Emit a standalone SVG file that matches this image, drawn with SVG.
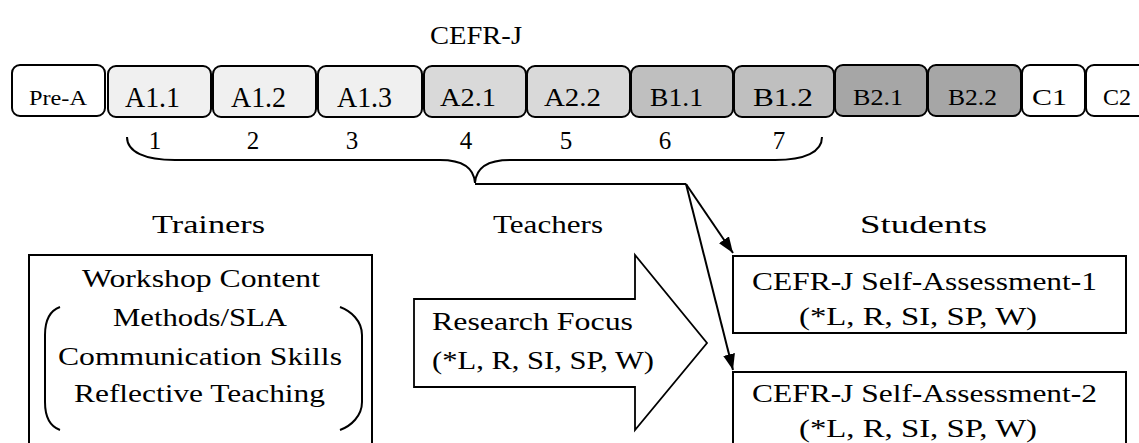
<svg xmlns="http://www.w3.org/2000/svg" width="1139" height="443" viewBox="0 0 1139 443" font-family="'Liberation Serif', 'DejaVu Serif', serif">
<style>
text{font-family:"Liberation Serif","DejaVu Serif",serif;fill:#000;}
.t25{font-size:25px;}
.box{stroke:#000;stroke-width:2;}
.line{fill:none;stroke:#000;stroke-width:2;}
</style>
<defs>
<marker id="ah2" viewBox="0 0 16 12" refX="16" refY="6" markerWidth="16" markerHeight="12" markerUnits="userSpaceOnUse" orient="auto">
<path d="M0,0 L16,6 L0,12 z" fill="#000"/>
</marker>
</defs>
<rect width="1139" height="443" fill="#fff"/>
<text id="title" class="t25" x="430" y="44" textLength="92" lengthAdjust="spacingAndGlyphs">CEFR-J</text>

<g id="tier-preA"><rect class="box" x="12" y="65" width="93" height="51" rx="8" fill="#fff"/><text x="29" y="105" font-size="22" textLength="58" lengthAdjust="spacingAndGlyphs">Pre-A</text></g>
<g id="tier-A11"><rect class="box" x="108" y="66" width="103" height="51" rx="8" fill="#f0f0f0"/><text x="125" y="107" font-size="29" textLength="55" lengthAdjust="spacingAndGlyphs">A1.1</text></g>
<g id="tier-A12"><rect class="box" x="213" y="66" width="103" height="51" rx="8" fill="#f0f0f0"/><text x="231" y="107" font-size="29" textLength="55" lengthAdjust="spacingAndGlyphs">A1.2</text></g>
<g id="tier-A13"><rect class="box" x="318" y="66" width="104" height="51" rx="8" fill="#f0f0f0"/><text x="337" y="107" font-size="29" textLength="55" lengthAdjust="spacingAndGlyphs">A1.3</text></g>
<g id="tier-A21"><rect class="box" x="424" y="66" width="102" height="51" rx="8" fill="#d9d9d9"/><text x="440" y="106" font-size="25" textLength="56" lengthAdjust="spacingAndGlyphs">A2.1</text></g>
<g id="tier-A22"><rect class="box" x="527" y="66" width="103" height="51" rx="8" fill="#d9d9d9"/><text x="544" y="106" font-size="25" textLength="57" lengthAdjust="spacingAndGlyphs">A2.2</text></g>
<g id="tier-B11"><rect class="box" x="631" y="66" width="102" height="51" rx="8" fill="#bfbfbf"/><text x="650" y="106" font-size="25" textLength="53" lengthAdjust="spacingAndGlyphs">B1.1</text></g>
<g id="tier-B12"><rect class="box" x="734" y="66" width="100" height="51" rx="8" fill="#bfbfbf"/><text x="753" y="106" font-size="25" textLength="60" lengthAdjust="spacingAndGlyphs">B1.2</text></g>
<g id="tier-B21"><rect class="box" x="835" y="65" width="92" height="51" rx="8" fill="#a6a6a6"/><text x="853" y="105" font-size="24" textLength="50" lengthAdjust="spacingAndGlyphs">B2.1</text></g>
<g id="tier-B22"><rect class="box" x="928" y="65" width="93" height="51" rx="8" fill="#a6a6a6"/><text x="948" y="105" font-size="24" textLength="49" lengthAdjust="spacingAndGlyphs">B2.2</text></g>
<g id="tier-C1"><rect class="box" x="1022" y="65" width="63" height="51" rx="8" fill="#fff"/><text x="1032" y="105" font-size="23" textLength="35" lengthAdjust="spacingAndGlyphs">C1</text></g>
<g id="tier-C2"><rect class="box" x="1086" y="65" width="62" height="51" rx="8" fill="#fff"/><text x="1103" y="105" font-size="23" textLength="28" lengthAdjust="spacingAndGlyphs">C2</text></g>

<g id="numbers" text-anchor="middle">
<text x="155" y="149" font-size="25">1</text>
<text x="253" y="149" font-size="25">2</text>
<text x="352" y="149" font-size="25">3</text>
<text x="466" y="149" font-size="25">4</text>
<text x="566" y="149" font-size="25">5</text>
<text x="665" y="149" font-size="25">6</text>
<text x="779" y="149" font-size="25">7</text>
</g>

<g id="brace">
<path class="line" d="M127,137 C127,152 145,160 175,160 L440,160 C462,160 474,168 475,183 C476,168 488,160 510,160 L775,160 C805,160 822,152 822,137"/>
</g>

<g id="connectors">
<path class="line" d="M475,184 L686,184"/>
<path class="line" d="M686,184 L733,253" marker-end="url(#ah2)"/>
<path class="line" d="M686,184 L733,370" marker-end="url(#ah2)"/>
</g>

<g id="trainers">
<text class="t25" x="152" y="233" textLength="113" lengthAdjust="spacingAndGlyphs">Trainers</text>
<rect class="box" x="29" y="255" width="343" height="200" fill="none"/>
<text class="t25" x="82" y="287" textLength="238" lengthAdjust="spacingAndGlyphs">Workshop Content</text>
<text class="t25" x="113" y="326" textLength="174" lengthAdjust="spacingAndGlyphs">Methods/SLA</text>
<text class="t25" x="58" y="365" textLength="284" lengthAdjust="spacingAndGlyphs">Communication Skills</text>
<text class="t25" x="74" y="402" textLength="251" lengthAdjust="spacingAndGlyphs">Reflective Teaching</text>
<path class="line" d="M60,307 C49,311 45,321 45,335 L45,402 C45,416 49,426 60,430"/>
<path class="line" d="M340,307 C351,311 362,321 362,335 L362,402 C362,416 351,426 340,430"/>
</g>

<g id="teachers">
<text class="t25" x="493" y="233" textLength="110" lengthAdjust="spacingAndGlyphs">Teachers</text>
<polygon points="414,299 635,299 635,255 707,343 635,430 635,387 414,387" fill="#fff" stroke="#000" stroke-width="1.8"/>
<text class="t25" x="432" y="330" textLength="201" lengthAdjust="spacingAndGlyphs">Research Focus</text>
<text class="t25" x="432" y="369" textLength="222" lengthAdjust="spacingAndGlyphs">(*L, R, SI, SP, W)</text>
</g>

<g id="students">
<text class="t25" x="860" y="233" textLength="127" lengthAdjust="spacingAndGlyphs">Students</text>
</g>
<g id="assessment1">
<rect class="box" x="733" y="256" width="393" height="77" fill="#fff"/>
<text class="t25" x="752" y="290" textLength="345" lengthAdjust="spacingAndGlyphs">CEFR-J Self-Assessment-1</text>
<text class="t25" x="799" y="325" textLength="238" lengthAdjust="spacingAndGlyphs">(*L, R, SI, SP, W)</text>
</g>
<g id="assessment2">
<rect class="box" x="733" y="372" width="393" height="90" fill="#fff"/>
<text class="t25" x="752" y="402" textLength="345" lengthAdjust="spacingAndGlyphs">CEFR-J Self-Assessment-2</text>
<text class="t25" x="799" y="437" textLength="238" lengthAdjust="spacingAndGlyphs">(*L, R, SI, SP, W)</text>
</g>
</svg>
